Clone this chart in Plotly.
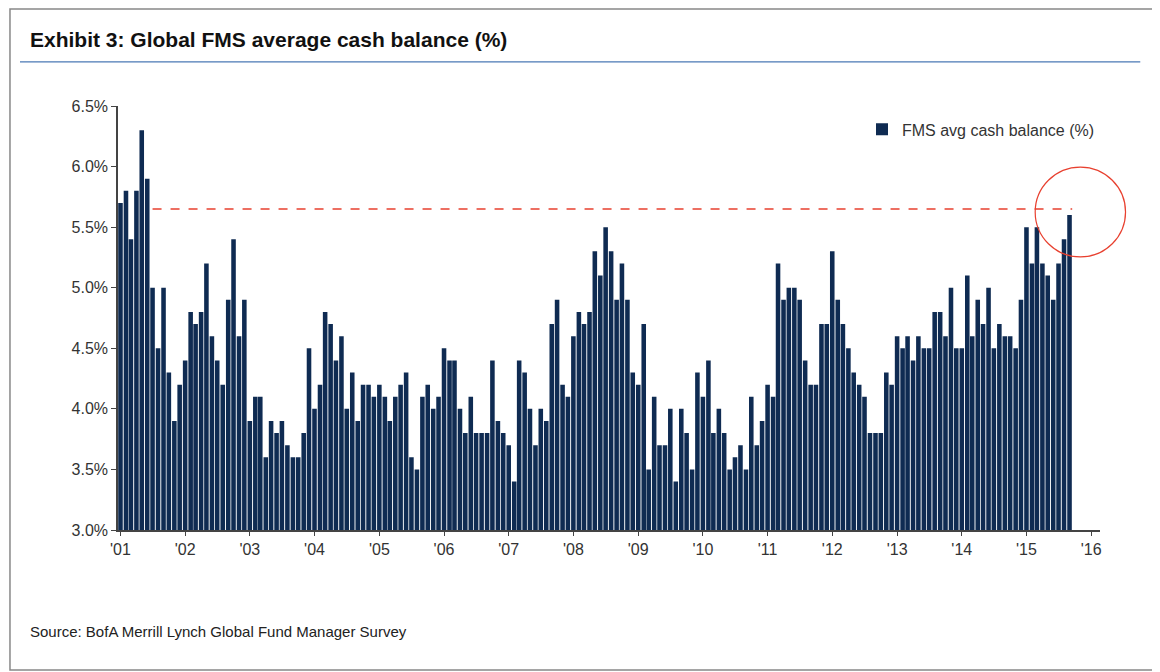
import pandas as pd
import plotly.graph_objects as go

## MONTHLY FMS AVERAGE CASH BALANCE (%), JAN 2001 - SEP 2015
cash_2001 = [5.7, 5.8, 5.4, 5.8, 6.3, 5.9, 5.0, 4.5, 5.0, 4.3, 3.9, 4.2]
cash_2002 = [4.4, 4.8, 4.7, 4.8, 5.2, 4.6, 4.4, 4.2, 4.9, 5.4, 4.6, 4.9]
cash_2003 = [3.9, 4.1, 4.1, 3.6, 3.9, 3.8, 3.9, 3.7, 3.6, 3.6, 3.8, 4.5]
cash_2004 = [4.0, 4.2, 4.8, 4.7, 4.4, 4.6, 4.0, 4.3, 3.9, 4.2, 4.2, 4.1]
cash_2005 = [4.2, 4.1, 3.9, 4.1, 4.2, 4.3, 3.6, 3.5, 4.1, 4.2, 4.0, 4.1]
cash_2006 = [4.5, 4.4, 4.4, 4.0, 3.8, 4.1, 3.8, 3.8, 3.8, 4.4, 3.9, 3.8]
cash_2007 = [3.7, 3.4, 4.4, 4.3, 4.0, 3.7, 4.0, 3.9, 4.7, 4.9, 4.2, 4.1]
cash_2008 = [4.6, 4.8, 4.7, 4.8, 5.3, 5.1, 5.5, 5.3, 4.9, 5.2, 4.9, 4.3]
cash_2009 = [4.2, 4.7, 3.5, 4.1, 3.7, 3.7, 4.0, 3.4, 4.0, 3.8, 3.5, 4.3]
cash_2010 = [4.1, 4.4, 3.8, 4.0, 3.8, 3.5, 3.6, 3.7, 3.5, 4.1, 3.7, 3.9]
cash_2011 = [4.2, 4.1, 5.2, 4.9, 5.0, 5.0, 4.9, 4.4, 4.2, 4.2, 4.7, 4.7]
cash_2012 = [5.3, 4.9, 4.7, 4.5, 4.3, 4.2, 4.1, 3.8, 3.8, 3.8, 4.3, 4.2]
cash_2013 = [4.6, 4.5, 4.6, 4.4, 4.6, 4.5, 4.5, 4.8, 4.8, 4.6, 5.0, 4.5]
cash_2014 = [4.5, 5.1, 4.6, 4.9, 4.7, 5.0, 4.5, 4.7, 4.6, 4.6, 4.5, 4.9]
cash_2015 = [5.5, 5.2, 5.5, 5.2, 5.1, 4.9, 5.2, 5.4, 5.6]

cashList = (cash_2001 + cash_2002 + cash_2003 + cash_2004 + cash_2005 + cash_2006 +
            cash_2007 + cash_2008 + cash_2009 + cash_2010 + cash_2011 + cash_2012 +
            cash_2013 + cash_2014 + cash_2015)
monthList = pd.date_range('2001-01-01', periods=len(cashList), freq='MS')

tickYears = list(range(2001, 2017))
tickVals = [pd.Timestamp(year=y, month=1, day=1) for y in tickYears]
tickText = ["'%02d" % (y % 100) for y in tickYears]

refLevel = 5.65   # dashed line level (%)

NAVY = '#0f2b52'
RED = '#e8402f'
FONT = 'Liberation Sans, Arial, sans-serif'

fig = go.Figure()
fig.add_trace(go.Bar(x=monthList, y=cashList, name='FMS avg cash balance (%)',
                     marker=dict(color=NAVY, line=dict(width=0))))

## DASHED LINE + CIRCLE HIGHLIGHT (circle in paper coords so it is not clipped)
fig.add_shape(type='line', xref='x', yref='y', x0=monthList[6], x1=monthList[-1] + pd.Timedelta(days=15),
              y0=refLevel, y1=refLevel, line=dict(color=RED, width=1.5, dash='dash'))
fig.add_shape(type='circle', xref='paper', yref='paper', x0=0.98 - 0.046, x1=0.98 + 0.046,
              y0=0.75 - 0.106, y1=0.75 + 0.106, line=dict(color=RED, width=1.2))

## FRAME, TITLE RULE
fig.add_shape(type='rect', xref='paper', yref='paper', x0=-0.11, x1=1.059, y0=-0.33, y1=1.229,
              line=dict(color='#888888', width=1.5), layer='below')
fig.add_shape(type='line', xref='paper', yref='paper', x0=-0.0998, x1=1.041, y0=1.104, y1=1.104,
              line=dict(color='#4a78b5', width=1.2))

fig.add_annotation(text='<b>Exhibit 3: Global FMS average cash balance (%)</b>', xref='paper', yref='paper',
                   x=-0.0916, y=1.156, xanchor='left', yanchor='middle', showarrow=False,
                   font=dict(family='Liberation Sans Narrow, Liberation Sans, Arial', size=21, color='#111111'))
fig.add_annotation(text='Source: BofA Merrill Lynch Global Fund Manager Survey', xref='paper', yref='paper',
                   x=-0.0916, y=-0.24, xanchor='left', yanchor='middle', showarrow=False,
                   font=dict(family=FONT, size=15, color='#222222'))

fig.update_layout(
    width=1160, height=672,
    margin=dict(l=110, r=68, t=98, b=150),
    plot_bgcolor='white', paper_bgcolor='white',
    bargap=0.08,
    font=dict(family=FONT, size=16, color='#333333'),
    showlegend=True,
    legend=dict(x=1.0, y=0.985, xanchor='right', yanchor='top', bgcolor='rgba(0,0,0,0)',
                font=dict(size=16, color='#333333'), itemwidth=30),
)
fig.update_xaxes(range=['2000-12-18', '2016-02-20'], tickvals=tickVals, ticktext=tickText,
                 showgrid=False, showline=True, linecolor='#444444', linewidth=1.5,
                 ticks='outside', ticklen=4, tickcolor='#444444')
fig.update_yaxes(range=[3.0, 6.5], dtick=0.5, tickformat='.1f', ticksuffix='%',
                 showgrid=False, showline=True, linecolor='#444444', linewidth=1.5,
                 ticks='outside', ticklen=5, tickcolor='#444444', zeroline=False)

fig.write_html('out.html')
